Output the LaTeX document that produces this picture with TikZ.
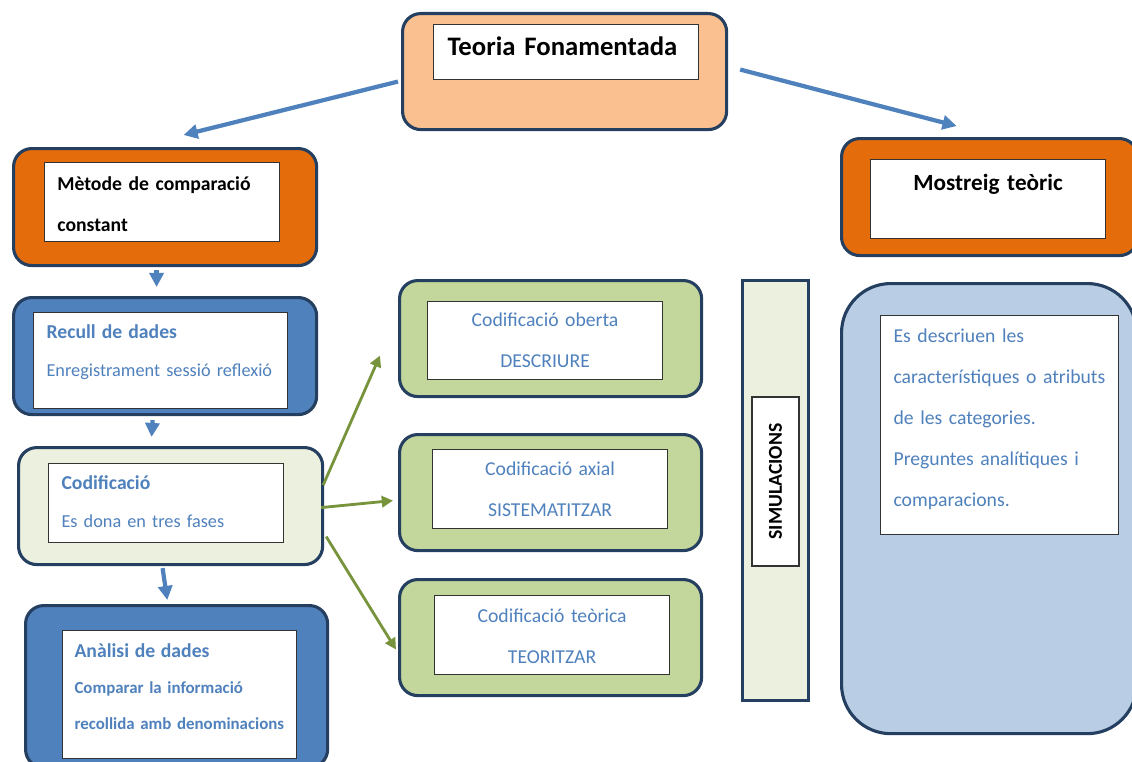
\documentclass[tikz,border=0pt]{standalone}
\usepackage{fontspec}
\setmainfont{Carlito}
\usetikzlibrary{arrows.meta}

\definecolor{frame}{RGB}{36,63,96}
\definecolor{peach}{RGB}{250,192,144}
\definecolor{boxorange}{RGB}{228,108,10}
\definecolor{steel}{RGB}{79,129,189}
\definecolor{pale}{RGB}{235,241,222}
\definecolor{boxolive}{RGB}{195,214,155}
\definecolor{sky}{RGB}{185,205,229}
\definecolor{grass}{RGB}{119,147,60}

\begin{document}
\begin{tikzpicture}[x=0.025cm, y=-0.025cm]
\useasboundingbox (0,0) rectangle (1132,762);

\begin{scope}[every node/.style={draw=frame, line width=2.2pt, rounded corners=13pt, anchor=north west, inner sep=0pt}]
    \node (teoria) at (401,12) [fill=peach, minimum width=8.1cm, minimum height=2.9cm] {};
    \node (metode) at (12,147) [fill=boxorange, minimum width=7.575cm, minimum height=2.925cm] {};
    \node (mostreig) at (840,137) [fill=boxorange, minimum width=7.4cm, minimum height=2.925cm] {};
    \node (recull) at (12,296) [fill=steel, minimum width=7.575cm, minimum height=2.925cm] {};
    \node (codif) at (17,446) [fill=pale, minimum width=7.6cm, minimum height=2.925cm] {};
    \node (analisi) at (24,604) [fill=steel, minimum width=7.55cm, minimum height=4.05cm] {};

    \node (oberta) at (398,279) [fill=boxolive, minimum width=7.55cm, minimum height=2.9cm] {};
    \node (axial) at (398,433) [fill=boxolive, minimum width=7.55cm, minimum height=2.9cm] {};
    \node (teorica) at (398,578) [fill=boxolive, minimum width=7.55cm, minimum height=2.9cm] {};

    \node (simul) at (741,279) [fill=pale, rounded corners=0pt, minimum width=1.65cm, minimum height=10.5cm] {};
    \node (mostra) at (840,282) [fill=sky, rounded corners=35pt, minimum width=7.375cm, minimum height=11.25cm] {};
\end{scope}

\begin{scope}[every node/.style={draw=black!80, line width=0.8pt, fill=white, anchor=north west,
              inner xsep=0.325cm, inner ysep=0pt, align=left, text=steel}]
    \node (teoriatxt) at (433,24) [text=black, inner xsep=0.35cm, text width=5.925cm, text height=0.775cm, text depth=0.6cm,
          font=\bfseries\fontsize{19}{23}\selectfont] {Teoria Fonamentada};
    \node (metodetxt) at (44,162) [text=black, inner xsep=0.32cm, text width=5.235cm, text height=0.7cm, text depth=1.275cm,
          font=\bfseries\fontsize{14}{29}\selectfont] {Mètode de comparació\\ constant};
    \node (mostreigtxt) at (870,159) [text=black, align=center, inner xsep=0.3cm, text width=5.275cm, text height=0.775cm, text depth=1.2cm,
          font=\bfseries\fontsize{16.5}{29}\selectfont] {Mostreig teòric};

    \node (reculltxt) at (33,312) [text width=5.7cm, text height=0.65cm, text depth=1.75cm,
          font=\fontsize{13}{27}\selectfont] {{\bfseries\fontsize{14}{27}\selectfont Recull de dades}\\ Enregistrament sessió reflexió};
    \node (codiftxt) at (48,463) [text width=5.225cm, text height=0.65cm, text depth=1.325cm,
          font=\fontsize{13}{27}\selectfont] {{\bfseries\fontsize{14}{27}\selectfont Codificació}\\ Es dona en tres fases};
    \node (analisitxt) at (62,630) [inner xsep=0.3cm, text width=5.25cm, text height=0.675cm, text depth=2.525cm,
          font=\bfseries\fontsize{12}{25.5}\selectfont] {{\fontsize{14}{25.5}\selectfont Anàlisi de dades}\\ Comparar la informació\\ recollida amb denominacions};

    \node (obertatxt) at (427,301) [align=center, inner xsep=0.3cm, text width=5.275cm, text height=0.625cm, text depth=1.325cm,
          font=\fontsize{14}{29}\selectfont] {Codificació oberta\\ DESCRIURE};
    \node (axialtxt) at (432,449) [align=center, inner xsep=0.3cm, text width=5.275cm, text height=0.65cm, text depth=1.325cm,
          font=\fontsize{14}{29}\selectfont] {Codificació axial\\ SISTEMATITZAR};
    \node (teoricatxt) at (434,595) [align=center, inner xsep=0.3cm, text width=5.275cm, text height=0.675cm, text depth=1.3cm,
          font=\fontsize{14}{29}\selectfont] {Codificació teòrica\\ TEORITZAR};

    \node (simultxt) at (775.5,481.5) [anchor=center, rotate=90, text=black, inner sep=0pt, align=center,
          minimum width=4.225cm, minimum height=1.175cm, font=\bfseries\fontsize{14}{17}\selectfont] {SIMULACIONS};
    \node (mostratxt) at (880,315) [text width=5.3cm, text height=0.675cm, text depth=4.8cm,
          font=\fontsize{14}{29.2}\selectfont] {Es descriuen les\\ característiques o atributs\\ de les categories.\\ Preguntes analítiques i\\ comparacions.};
\end{scope}

\begin{scope}[>={Triangle[length=10pt, width=10pt]},
              every edge/.style={draw=steel, line width=3pt}]
    \path [->] ([shift={(-3,10)}]teoria.west) edge ([shift={(18.5,-12)}]metode.north);
    \path [->] ([shift={(12,-2)}]teoria.east) edge ([shift={(-33,-11)}]mostreig.north);
    \path [->] ([shift={(-8.5,3)}]metode.south) edge ([shift={(-8.5,-9)}]recull.north);
    \path [->] ([shift={(-12.5,4)}]recull.south) edge ([shift={(-19,-9)}]codif.north);
    \path [->] ([shift={(-8,2)}]codif.south) edge ([shift={(-9.3,-4)}]analisi.north);
\end{scope}

\begin{scope}[>={Triangle[length=8pt, width=8pt]},
              every edge/.style={draw=grass, line width=2pt}]
    \path [->] ([shift={(-1,-21)}]codif.east) edge ([shift={(-18,17)}]oberta.west);
    \path [->] ([shift={(-3,1.5)}]codif.east) edge ([shift={(-5,8)}]axial.west);
    \path [->] ([shift={(2,30.5)}]codif.east) edge ([shift={(-2,12)}]teorica.west);
\end{scope}
\end{tikzpicture}
\end{document}
